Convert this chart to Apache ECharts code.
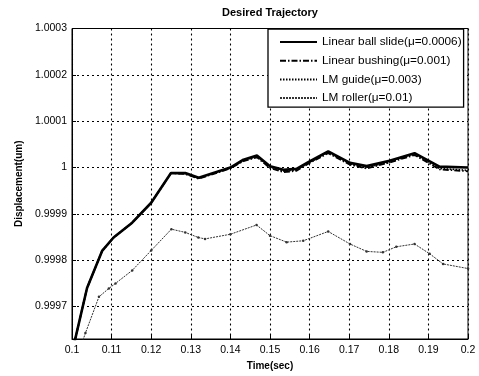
<!DOCTYPE html>
<html>
<head>
<meta charset="utf-8">
<script src="https://cdn.jsdelivr.net/npm/echarts@6/dist/echarts.min.js"></script>
<style>
  html, body { margin: 0; padding: 0; background: #fff; }
  #chart { width: 479px; height: 376px; }
</style>
</head>
<body>
<div id="chart"></div>
<script>
// Sample times (s) for the three high-precision guides
const tTop = [0.1, 0.1038, 0.1076, 0.1105, 0.1152, 0.12, 0.125, 0.1286, 0.132, 0.14,
  0.1433, 0.1467, 0.15, 0.1534, 0.1567, 0.16, 0.1647, 0.1702, 0.1744, 0.1802, 0.1865, 0.1928, 0.2];

const ballSlide = [0.99960, 0.99974, 0.99982, 0.999849, 0.999881, 0.999924, 0.999988, 0.999988, 0.999978, 1.0,
  1.000017, 1.000026, 1.000003, 0.999995, 0.999997, 1.000013, 1.000035, 1.00001, 1.000003, 1.0000145, 1.000031, 1.000002, 1.0];

const bushing = [0.99960, 0.99974, 0.99982, 0.999849, 0.999881, 0.999924, 0.999988, 0.999986, 0.999976, 0.999998,
  1.000014, 1.000022, 0.999999, 0.99999, 0.999993, 1.00001, 1.000031, 1.000006, 0.999998, 1.000011, 1.000027, 0.999996, 0.999992];

const guide = [0.99960, 0.99974, 0.99982, 0.999849, 0.999881, 0.999924, 0.999988, 0.999987, 0.999977, 0.999999,
  1.000015, 1.000024, 1.000001, 0.999992, 0.999995, 1.000011, 1.000033, 1.000008, 1.0, 1.000012, 1.000029, 0.999998, 0.999994];

// Sample times (s) and response of the roller guide
const tRoller = [0.1, 0.1034, 0.1068, 0.1093, 0.111, 0.1152, 0.12, 0.1251, 0.1286, 0.1319, 0.1336, 0.14,
  0.1466, 0.15, 0.1542, 0.1584, 0.1647, 0.1702, 0.1744, 0.1785, 0.1819, 0.1865, 0.1903, 0.1937, 0.2];
const lmRoller = [0.99956, 0.999643, 0.999721, 0.999739, 0.99975, 0.999778, 0.999821, 0.999867, 0.99986, 0.999849, 0.999846, 0.999856,
  0.999876, 0.999853, 0.999839, 0.999842, 0.999862, 0.999835, 0.999819, 0.999817, 0.999829, 0.999835, 0.999814, 0.999792, 0.999782];

const seriesNames = ['Linear ball slide(\u03bc=0.0006)', 'Linear bushing(\u03bc=0.001)', 'LM guide(\u03bc=0.003)', 'LM roller(\u03bc=0.01)'];
const yTicks = [0.9997, 0.9998, 0.9999, 1.0, 1.0001, 1.0002, 1.0003];
const yRange = [0.99963, 1.0003];
const xRange = [0.1, 0.2];

const pair = (ts, vs) => ts.map((t, i) => [t, vs[i]]);
const FONT = 'Liberation Sans, Arial, sans-serif';

// Legend entries show plain line samples only
const legendData = seriesNames.map(name => ({ name, itemStyle: { opacity: 0 } }));

const chart = echarts.init(document.getElementById('chart'), null, { renderer: 'canvas' });
chart.setOption({
  animation: false,
  backgroundColor: '#fff',
  title: {
    text: 'Desired Trajectory',
    left: 217, top: 2,
    textStyle: { fontFamily: FONT, fontSize: 11, fontWeight: 'bold', color: '#000' }
  },
  grid: {
    left: 72, right: 11, top: 28.5, bottom: 35,
    show: true, borderColor: '#000', borderWidth: 1, backgroundColor: '#fff'
  },
  legend: {
    orient: 'vertical', left: 268, top: 29,
    padding: [7, 2, 3, 11],
    itemWidth: 37, itemHeight: 12, itemGap: 6.7,
    backgroundColor: '#fff', borderColor: '#000', borderWidth: 1.3,
    textStyle: { fontFamily: FONT, fontSize: 11.8, color: '#000' },
    data: legendData
  },
  xAxis: {
    type: 'value', min: xRange[0], max: xRange[1], interval: 0.01,
    name: 'Time(sec)', nameLocation: 'middle', nameGap: 22,
    nameTextStyle: { fontFamily: FONT, fontSize: 10, fontWeight: 'bold', color: '#000' },
    axisLine: { lineStyle: { color: '#000', width: 1 } },
    axisTick: { inside: true, length: 4, lineStyle: { color: '#000' } },
    axisLabel: {
      fontFamily: FONT, fontSize: 10.5, color: '#000', margin: 6,
      formatter: v => String(parseFloat(v.toFixed(2)))
    },
    splitLine: { show: true, lineStyle: { color: '#000', type: [2, 3], width: 1.1 } }
  },
  yAxis: {
    type: 'value', min: yRange[0], max: yRange[1],
    name: 'Displacement(um)', nameLocation: 'middle', nameGap: 48,
    nameTextStyle: { fontFamily: FONT, fontSize: 10, fontWeight: 'bold', color: '#000' },
    axisLine: { show: true, lineStyle: { color: '#000', width: 1 } },
    axisTick: { show: true, inside: true, length: 4, customValues: yTicks, lineStyle: { color: '#000' } },
    axisLabel: {
      fontFamily: FONT, fontSize: 10.5, color: '#000', margin: 5,
      customValues: yTicks,
      formatter: v => String(parseFloat(v.toFixed(4)))
    },
    splitLine: { show: true, lineStyle: { color: '#000', type: [2, 3], width: 1.1 } }
  },
  series: [
    {
      name: seriesNames[0], type: 'line', data: pair(tTop, ballSlide),
      symbol: 'none', color: '#000', lineStyle: { color: '#000', width: 2.6 }, z: 5
    },
    {
      name: seriesNames[1], type: 'line', data: pair(tTop, bushing),
      symbol: 'none', color: '#000', lineStyle: { color: '#000', width: 1.8, type: [6, 2, 1.5, 2] }, z: 4
    },
    {
      name: seriesNames[2], type: 'line', data: pair(tTop, guide),
      symbol: 'none', color: '#000', lineStyle: { color: '#000', width: 1.6, type: [1.5, 1.5] }, z: 3
    },
    {
      name: seriesNames[3], type: 'line', data: pair(tRoller, lmRoller),
      symbol: 'circle', symbolSize: 2.5, color: '#333',
      itemStyle: { color: '#333' },
      lineStyle: { color: '#333', width: 1, type: [2, 1] }, z: 3
    }
  ]
});
</script>
</body>
</html>
